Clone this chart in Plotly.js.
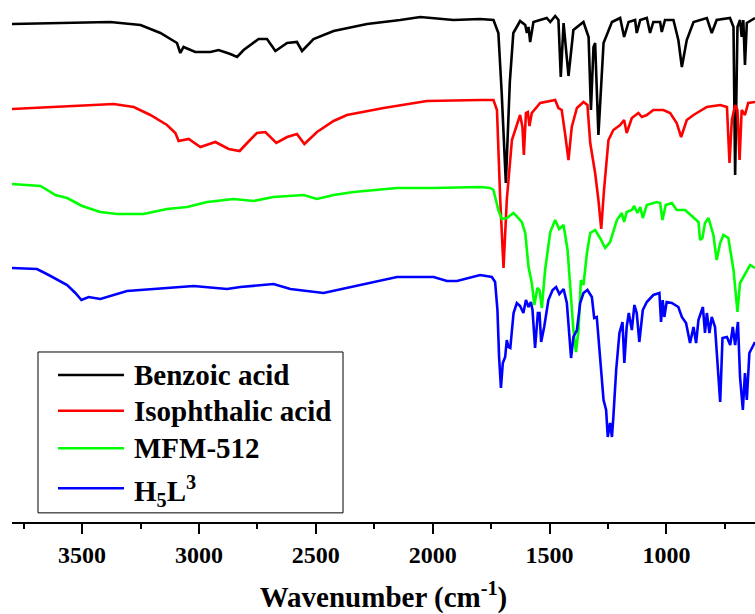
<!DOCTYPE html>
<html>
<head>
<meta charset="utf-8">
<script src="https://cdn.plot.ly/plotly-3.0.1.min.js"></script>
<style>html,body{margin:0;padding:0;background:#fff;}#chart{width:755px;height:614px;}</style>
</head>
<body>
<div id="chart"></div>
<script>
// Wavenumbers (cm-1) and offset transmittance (a.u.)
var seriesNames = ["Benzoic acid", "Isophthalic acid", "MFM-512", "H<sub>5</sub>L<sup>3</sup>"];
var seriesColors = ["#000000", "#ff0000", "#00ff00", "#0000ff"];

var benzoicX = [3800,3380,3250,3165,3094,3080,3066,3016,2951,2916,2866,2837,2809,2745,2709,2673,2623,2581,2559,2510,2424,2281,2139,2053,1911,1797,1740,1719,1705,1687,1670,1655,1626,1604,1597,1590,1583,1569,1512,1497,1476,1462,1452,1440,1419,1398,1355,1333,1323,1312,1305,1291,1269,1233,1198,1181,1162,1134,1127,1112,1084,1070,1056,1027,1020,1006,970,949,934,913,884,827,806,785,728,713,706,696,685,678,671,664,656,621];
var benzoicY = [498,500,497,489,479,469,475,470,470,472,468,465,472,483,483,471,479,480,471,483,491,498,502,505,502,503,502,489,430,339,440,489,501,497,489,495,480,500,504,500,506,502,445,499,446,492,500,485,412,475,479,387,479,500,504,485,500,502,489,502,504,489,500,500,490,502,502,482,455,482,500,504,489,502,504,495,347,495,502,485,502,457,499,504];

var isoX = [3800,3422,3365,3279,3208,3137,3101,3087,3044,2994,2930,2873,2826,2794,2752,2716,2669,2623,2581,2549,2495,2424,2367,2210,2025,1797,1740,1725,1711,1697,1683,1661,1626,1616,1610,1601,1593,1586,1576,1540,1490,1476,1462,1448,1434,1419,1405,1383,1355,1338,1326,1305,1291,1279,1267,1248,1227,1198,1181,1170,1148,1120,1105,1084,1056,1013,984,956,937,913,884,827,770,741,730,720,706,696,687,678,664,650,621];
var isoY = [413,417,418,415,407,397,389,381,383,375,380,373,371,379,389,390,379,385,388,378,390,401,407,414,421,422,422,412,322,254,322,382,407,395,367,409,410,396,409,419,421,422,414,412,389,362,395,414,420,417,379,349,322,293,332,382,392,397,402,389,404,409,405,407,412,412,409,399,385,402,407,415,417,415,359,402,417,412,362,412,407,419,420];

var mfmX = [3800,3678,3614,3564,3500,3422,3350,3237,3137,3051,2965,2852,2766,2681,2552,2495,2424,2338,2153,1996,1797,1754,1740,1719,1704,1683,1654,1633,1619,1604,1590,1576,1565,1552,1543,1533,1519,1497,1476,1459,1440,1423,1409,1398,1387,1376,1366,1355,1340,1326,1305,1284,1262,1241,1212,1191,1181,1170,1148,1138,1124,1112,1101,1084,1041,1027,1017,1003,977,956,920,884,863,856,846,835,820,799,785,770,756,735,713,706,696,685,671,656,642,621];
var mfmY = [338,336,327,324,316,310,308,308,313,315,320,323,321,325,327,323,327,330,334,334,335,334,332,312,303,304,309,304,300,289,255,239,217,234,232,214,252,290,302,293,297,272,225,192,170,192,242,237,269,289,292,284,274,280,302,309,300,310,312,316,309,315,304,317,320,319,302,317,319,312,312,305,300,282,284,299,304,287,262,279,287,284,252,235,210,239,245,252,257,254];

var h5l3X = [3800,3693,3643,3564,3529,3503,3472,3422,3308,3137,3023,2880,2823,2681,2609,2467,2367,2153,1996,1939,1896,1797,1747,1733,1723,1716,1708,1700,1690,1683,1676,1668,1654,1640,1626,1612,1601,1590,1580,1573,1562,1550,1543,1536,1523,1505,1487,1472,1458,1440,1426,1415,1408,1398,1383,1369,1355,1338,1319,1309,1298,1291,1279,1269,1258,1251,1241,1233,1227,1215,1201,1188,1180,1170,1161,1148,1137,1127,1116,1101,1084,1056,1030,1023,1016,1009,999,977,949,934,916,899,884,873,863,844,835,827,816,806,792,782,770,760,741,727,716,706,694,685,673,664,656,645,621];
var h5l3Y = [254,253,247,237,229,222,225,223,231,234,236,233,235,238,233,229,234,245,245,241,241,247,245,240,212,165,134,159,165,182,175,174,209,219,216,209,222,215,220,212,174,209,209,180,195,222,232,235,228,233,219,185,164,185,192,219,229,232,225,204,205,185,152,122,112,85,99,85,105,152,189,200,159,195,209,192,217,209,180,212,220,227,229,200,222,205,220,219,215,205,199,179,195,179,202,215,189,209,189,205,195,159,120,184,185,177,195,177,200,145,112,149,122,169,180];

var xs = [benzoicX, isoX, mfmX, h5l3X];
var ys = [benzoicY, isoY, mfmY, h5l3Y];

var font = "'Liberation Serif', 'Times New Roman', serif";
var traces = xs.map(function (x, i) {
  return {
    type: 'scatter', mode: 'lines', x: x, y: ys[i], name: seriesNames[i],
    showlegend: false,
    line: {color: seriesColors[i], width: 2.6}
  };
});

// Legend box drawn in paper coordinates (keys follow the series order)
var legBox = {x0: 0.035, x1: 0.4455, y0: 0.0175, y1: 0.3257};
var legLineX = [0.0619, 0.1507];
var legRowY = [0.2816, 0.2132, 0.1412, 0.0646];
var legTextX = 0.161;
var legTextShift = [0, 0, 0, -3];

var shapes = [{
  type: 'rect', xref: 'paper', yref: 'paper',
  x0: legBox.x0, x1: legBox.x1, y0: legBox.y0, y1: legBox.y1,
  line: {color: '#000', width: 1}, fillcolor: '#fff', layer: 'above'
}];
var annotations = [];
seriesNames.forEach(function (n, i) {
  shapes.push({
    type: 'line', xref: 'paper', yref: 'paper',
    x0: legLineX[0], x1: legLineX[1], y0: legRowY[i], y1: legRowY[i],
    line: {color: seriesColors[i], width: 2.6}, layer: 'above'
  });
  annotations.push({
    xref: 'paper', yref: 'paper', x: legTextX, y: legRowY[i],
    xanchor: 'left', yanchor: 'middle', yshift: legTextShift[i],
    text: n, showarrow: false,
    font: {family: font, size: 29, color: '#000', weight: 'bold'}
  });
});

var layout = {
  width: 755, height: 614,
  margin: {l: 12, r: 0, t: 0, b: 92},
  paper_bgcolor: '#ffffff', plot_bgcolor: '#ffffff',
  showlegend: false,
  shapes: shapes,
  annotations: annotations,
  xaxis: {
    range: [3800, 621], dtick: 500, tick0: 0,
    showline: true, linecolor: '#000', linewidth: 2,
    ticks: 'outside', ticklen: 10, tickwidth: 2, tickcolor: '#000',
    minor: {dtick: 250, ticks: 'outside', ticklen: 5, tickwidth: 2, tickcolor: '#000'},
    showgrid: false, zeroline: false,
    tickfont: {family: font, size: 24, color: '#000', weight: 'bold'},
    title: {text: 'Wavenumber (cm<sup>-1</sup>)', font: {family: font, size: 29, color: '#000', weight: 'bold'}, standoff: 20}
  },
  yaxis: {
    range: [0, 522], visible: false, fixedrange: true
  }
};

Plotly.newPlot('chart', traces, layout, {displayModeBar: false, staticPlot: true});
</script>
</body>
</html>
